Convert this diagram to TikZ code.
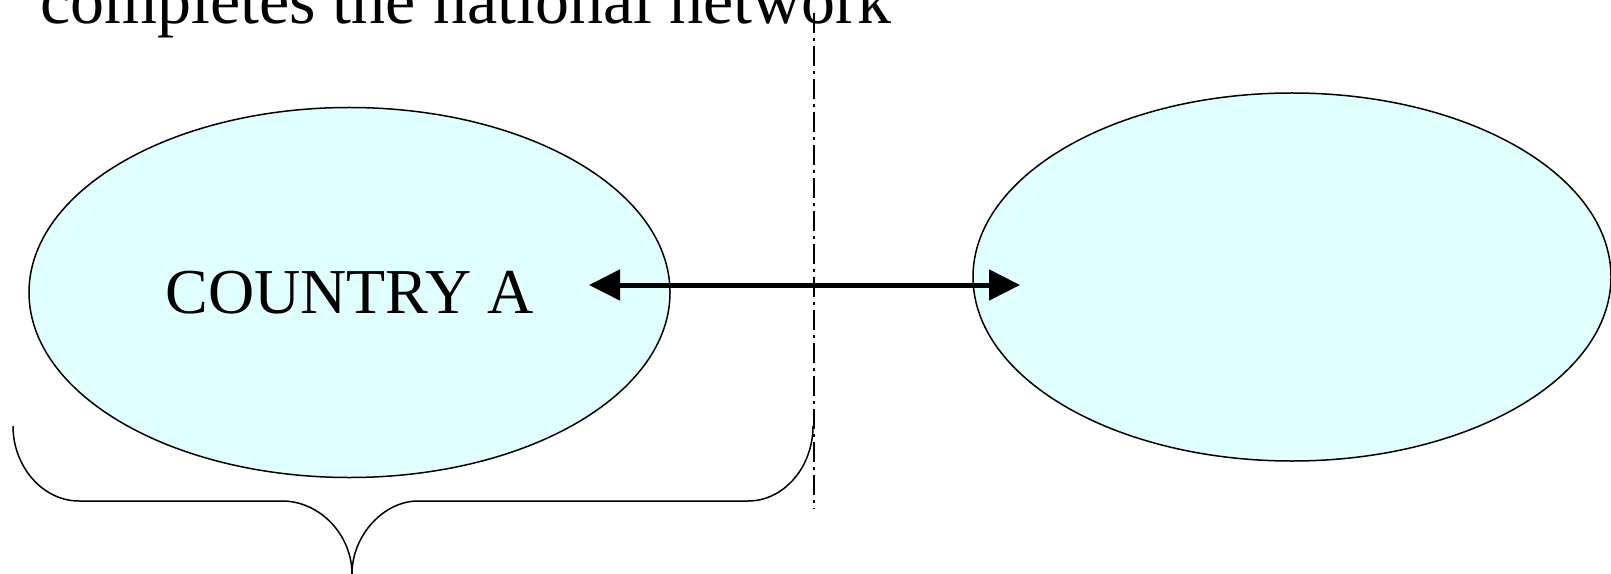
\documentclass[tikz,border=0pt]{standalone}
\usepackage{fontspec}
\setmainfont{Liberation Serif}
\usetikzlibrary{arrows.meta,shapes.geometric}
\definecolor{fillcyan}{HTML}{E0FFFF}
\begin{document}
\begin{tikzpicture}[x=1bp,y=-1bp,
  country/.style={ellipse, draw=black, line width=1.5bp, fill=fillcyan, inner sep=0pt,
    font=\fontsize{64bp}{70bp}\selectfont},
  link/.style={line width=5bp, {Triangle[length=31bp,width=30bp]}-{Triangle[length=31bp,width=30bp]}},
  border/.style={line width=1.3bp, dash pattern=on 20bp off 5bp on 3bp off 5bp},
  brace/.style={line width=1.5bp}]
\useasboundingbox (0,0) rectangle (1611,574);
\clip (0,0) rectangle (1611,574);
\node[anchor=base west, inner sep=0pt, font=\fontsize{68bp}{74bp}\selectfont] (title) at (40,24) {completes the national network};
\node[country, minimum width=641bp, minimum height=370bp] (A) at (349.5,292.5) {COUNTRY A};
\node[country, minimum width=638bp, minimum height=368bp] (B) at (1292,277) {};
\coordinate (la) at (589,285);
\coordinate (lb) at (1020,285);
\draw[link] (la) -- (lb);
\coordinate (bt) at (814,13);
\coordinate (bb) at (814,509);
\draw[border] (bt) -- (bb);
\coordinate (bl) at (13,426);
\coordinate (br) at (813,426);
\coordinate (tip) at (352,574);
\draw[brace] (bl) .. controls (13,467) and (43,501) .. (79,501) -- (282,501)
  .. controls (320,501) and (352,535) .. (tip)
  .. controls (352,535) and (384,501) .. (418,501) -- (748,501)
  .. controls (784,501) and (813,467) .. (br);
\end{tikzpicture}
\end{document}
